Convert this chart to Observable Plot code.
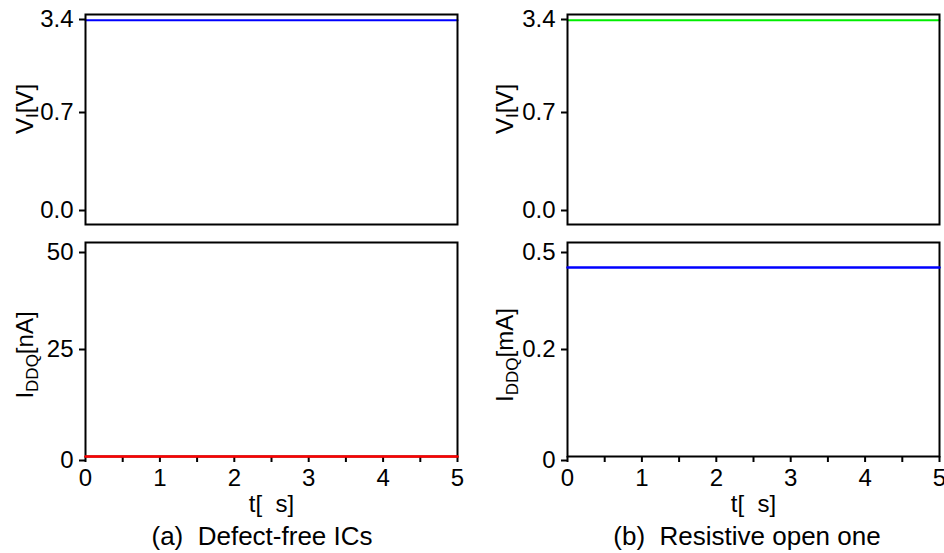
<!DOCTYPE html>
<html>
<head>
<meta charset="utf-8">
<script src="https://cdn.jsdelivr.net/npm/d3@7"></script>
<script src="https://cdn.jsdelivr.net/npm/@observablehq/plot@0.6"></script>
<style>
  html, body { margin: 0; padding: 0; background: #fff; }
  #root { position: relative; width: 944px; height: 553px; overflow: hidden; font-family: "Liberation Sans", Arial, sans-serif; }
  #root svg { position: absolute; overflow: visible; }
  .cap { position: absolute; font-size: 26px; color: #000; white-space: pre; transform: translateX(-50%); }
</style>
</head>
<body>
<div id="root"></div>
<script>
// ---- data ----
const tValues = [0, 1, 2, 3, 4, 5];
const xTicks = [0, 0.5, 1, 1.5, 2, 2.5, 3, 3.5, 4, 4.5, 5];
const vDefectFree = [3.25, 3.25, 3.25, 3.25, 3.25, 3.25];    // V_I [V], panel (a)
const iDefectFree = [0, 0, 0, 0, 0, 0];                      // I_DDQ [nA], panel (a)
const vResistiveOpen = [3.25, 3.25, 3.25, 3.25, 3.25, 3.25]; // V_I [V], panel (b)
const iResistiveOpen = [0.43, 0.43, 0.43, 0.43, 0.43, 0.43]; // I_DDQ [mA], panel (b)
const vTicks = [0, 0.7, 3.4];
const iTicksNA = [0, 25, 50];
const iTicksMA = [0, 0.2, 0.5];
const xLabel = "t[\u00a0\u00a0s]";
const captions = ["(a)\u00a0\u00a0Defect-free ICs", "(b)\u00a0\u00a0Resistive open one"];

const FONT = "Liberation Sans, Arial, sans-serif";
const FS = 24;
const root = document.getElementById("root");

// piecewise (broken) axes: equal spacing between the labelled ticks
function piecewise(ticks) { return d3.scaleLinear().domain(ticks).range(ticks.map((_, i) => i)); }

function rows(ys) { return tValues.map((t, i) => ({t, y: ys[i]})); }

function yAxes(ticks, pos, fmt, dys) {
  return ticks.map((tk, i) => Plot.axisY({
    ticks: [pos(tk)], tickFormat: () => fmt(tk), tickSize: 6, tickPadding: 6,
    fontSize: FS, dy: dys[i], label: null, strokeWidth: 2
  }));
}

function addYLabel(svg, main, sub, rest, cy) {
  const t = d3.select(svg).append("text")
    .attr("transform", `translate(33,${cy}) rotate(-90)`)
    .attr("text-anchor", "middle")
    .attr("font-family", FONT)
    .attr("font-size", FS)
    .attr("fill", "#000");
  t.append("tspan").text(main);
  t.append("tspan").attr("font-size", 17).attr("dy", 5).text(sub);
  t.append("tspan").attr("dy", -5).text(rest);
}

function place(svg, left, top) {
  svg.style.left = left + "px";
  svg.style.top = top + "px";
  root.appendChild(svg);
}

function topPanel(vals, color, left, width, mLeft, mRight) {
  const pos = piecewise(vTicks);
  const svg = Plot.plot({
    width, height: 240,
    marginLeft: mLeft, marginRight: mRight, marginTop: 14, marginBottom: 16,
    style: {fontFamily: FONT, fontSize: FS + "px", color: "#000", background: "transparent"},
    x: {domain: [0, 5], axis: null},
    y: {domain: [0, vTicks.length - 1], axis: null},
    marks: [
      ...yAxes(vTicks, pos, d3.format(".1f"), [-14, -7, 5]),
      Plot.line(rows(vals), {x: "t", y: d => pos(d.y), stroke: color, strokeWidth: 2}),
      Plot.frame({stroke: "#000", strokeWidth: 2})
    ]
  });
  addYLabel(svg, "V", "I", "[V]", 109);
  place(svg, left, 0);
}

function bottomPanel(vals, color, ticks, unitLabel, left, width, mLeft, mRight) {
  const pos = piecewise(ticks);
  const svg = Plot.plot({
    width, height: 290,
    marginLeft: mLeft, marginRight: mRight, marginTop: 12, marginBottom: 64,
    style: {fontFamily: FONT, fontSize: FS + "px", color: "#000", background: "transparent"},
    x: {domain: [0, 5]},
    y: {domain: [0, ticks.length - 1], axis: null},
    marks: [
      ...yAxes(ticks, pos, d => String(d), [4, 0, 10]),
      Plot.axisX({
        ticks: xTicks, tickFormat: d => Number.isInteger(d) ? String(d) : "",
        tickSize: 6, tickPadding: 6, fontSize: FS, strokeWidth: 2,
        label: xLabel, labelAnchor: "center", labelArrow: "none", labelOffset: 55
      }),
      Plot.frame({stroke: "#000", strokeWidth: 2}),
      Plot.line(rows(vals), {x: "t", y: d => pos(d.y), stroke: color, strokeWidth: 2.5})
    ]
  });
  addYLabel(svg, "I", "DDQ", unitLabel, 125);
  place(svg, left, 230);
}

topPanel(vDefectFree, "#0000ff", 0, 470, 85, 13);
bottomPanel(iDefectFree, "#ff0000", iTicksNA, "[nA]", 0, 470, 85, 13);
topPanel(vResistiveOpen, "#00ee00", 480, 464, 87, 5);
bottomPanel(iResistiveOpen, "#0000ff", iTicksMA, "[mA]", 480, 464, 87, 5);

captions.forEach((c, i) => {
  const d = document.createElement("div");
  d.className = "cap";
  d.textContent = c;
  d.style.left = (i === 0 ? 262 : 747) + "px";
  d.style.top = "521px";
  root.appendChild(d);
});
</script>
</body>
</html>
